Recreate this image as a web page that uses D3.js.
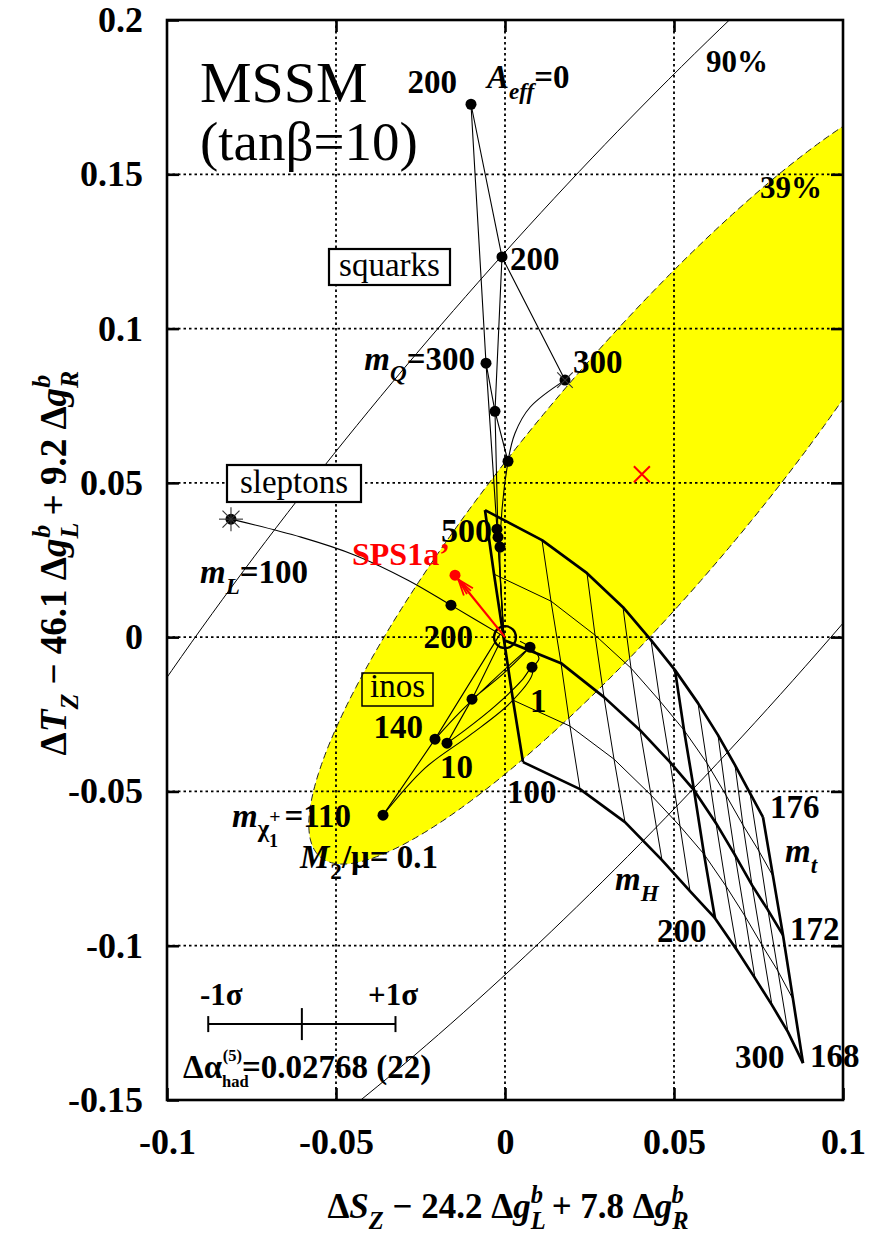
<!DOCTYPE html>
<html><head><meta charset="utf-8">
<script src="https://cdn.jsdelivr.net/npm/d3@7"></script>
<style>body{margin:0;background:#fff} svg{display:block} text{font-family:"Liberation Serif","Times New Roman",serif}</style>
</head><body>
<svg id="c" width="870" height="1236"></svg>
<script>
// ---------------- data ----------------
const xTicks = [-0.1, -0.05, 0, 0.05, 0.1];
const xTickLabels = ["-0.1", "-0.05", "0", "0.05", "0.1"];
const yTicks = [-0.15, -0.1, -0.05, 0, 0.05, 0.1, 0.15, 0.2];
const yTickLabels = ["-0.15", "-0.1", "-0.05", "0", "0.05", "0.1", "0.15", "0.2"];

// fit ellipses: centre and conjugate semi-axis vectors (data units)
const ellCenter = [0.0405, 0.0528];
const ell39A = [0.0951, 0.1241], ell39B = [0.02583, -0.02375];
const ell90A = [0.2096, 0.2643], ell90B = [0.05574, -0.05305];

// SM grid: m_H = 100..300 for each m_t
const mHvals = [100, 120, 140, 160, 180, 200, 220, 240, 260, 280, 300];
const mtVals = [168, 170, 172, 174, 176];
const sm176 = [[-0.00592,0.04116],[0.01095,0.03144],[0.02426,0.02074],[0.03491,0.00972],[0.04320,-0.00097],[0.05030,-0.01069],[0.05710,-0.02139],[0.06302,-0.03176],[0.06805,-0.04148],[0.07249,-0.05056],[0.07633,-0.05833]];
const sm174 = [[-0.00325,0.02042],[0.01361,0.01167],[0.02663,0.00065],[0.03728,-0.01005],[0.04586,-0.02074],[0.05296,-0.03014],[0.05976,-0.04083],[0.06538,-0.05120],[0.07041,-0.06093],[0.07515,-0.06935],[0.07929,-0.07745]];
const sm172 = [[-0.00030,-0.00097],[0.01657,-0.00843],[0.02929,-0.01944],[0.03994,-0.03014],[0.04882,-0.04051],[0.05592,-0.04958],[0.06243,-0.06028],[0.06805,-0.07065],[0.07308,-0.08037],[0.07781,-0.08847],[0.08225,-0.09658]];
const sm170 = [[0.00237,-0.02042],[0.01923,-0.02884],[0.03225,-0.03954],[0.04320,-0.05120],[0.05178,-0.06125],[0.05888,-0.07032],[0.06538,-0.08069],[0.07101,-0.09042],[0.07604,-0.09982],[0.08077,-0.10824],[0.08521,-0.11732]];
const sm168 = [[0.00533,-0.04051],[0.02219,-0.04926],[0.03550,-0.05995],[0.04645,-0.07227],[0.05473,-0.08232],[0.06213,-0.09107],[0.06864,-0.10144],[0.07396,-0.11051],[0.07899,-0.11926],[0.08373,-0.12801],[0.08817,-0.13806]];

// squarks: curves of fixed A_eff (0, 200, 300) vs m_Q, and fixed m_Q vs A_eff
const sqA0   = [[-0.01006,0.1727],[-0.00562,0.0888],[-0.00237,0.0350],[-0.0003,0.0]];
const sqA200 = [[-0.00089,0.1232],[-0.00296,0.0732],[-0.00207,0.0324],[-0.0003,0.0]];
const sqA300 = [[0.01775,0.0833],[0.0074,0.0745],[0.00296,0.0661],[0.00089,0.0570],[-0.00148,0.0292],[-0.0003,0.0]];
const sqM200 = [[-0.01006,0.1727],[-0.00089,0.1232],[0.01775,0.0833]];
const sqM300 = [[-0.00562,0.0888],[-0.00296,0.0732],[0.00089,0.0570]];
const sqDots = [[-0.01006,0.1727],[-0.00089,0.1232],[-0.00562,0.0888],[0.01775,0.0833],[-0.00296,0.0732],[0.00089,0.0570],[-0.00237,0.0350],[-0.00207,0.0324],[-0.00148,0.0292]];

// sleptons
const slCurve = [[-0.08107,0.03824],[-0.06036,0.03241],[-0.04438,0.02657],[-0.02870,0.01847],[-0.01598,0.01037],[0,0]];
const slDots = [[-0.01598,0.01037]];
const slStar = [-0.08107,0.03824];

// inos (charginos / neutralinos)
const inoMu01 = [[-0.03609,-0.05769],[-0.02071,-0.03306],[-0.00148,0.00097]];
const inoMu10 = [[-0.01716,-0.03435],[-0.00976,-0.02009],[-0.00148,-0.00162]];
const inoMu1  = [[0.00799,-0.00972],[0.01006,-0.00681],[0.00740,-0.00324],[0.00444,-0.00130]];
const inoM110 = [[-0.03609,-0.05769],[-0.02367,-0.04245],[-0.01036,-0.03176],[0.00148,-0.02139],[0.00799,-0.01232],[0.00799,-0.00972],[0.00503,-0.01394],[-0.00296,-0.02236],[-0.01183,-0.03014],[-0.01716,-0.03435]];
const inoM140 = [[-0.02071,-0.03306],[-0.01331,-0.02431],[-0.00444,-0.01491],[0.00296,-0.00745],[0.00740,-0.00324],[0.0,-0.01134],[-0.00976,-0.02009]];
const inoDots = [[-0.03609,-0.05769],[-0.02071,-0.03306],[-0.01716,-0.03435],[-0.00976,-0.02009],[0.00740,-0.00324],[0.00799,-0.00972]];

// SPS1a' point and arrow
const spsPoint = [-0.01479, 0.02009];
const spsArrow = [[0,0],[-0.0138,0.0187]];
const origin = [0, 0];
const bestFit = [0.0405, 0.0528];

// 1 sigma bar for Delta alpha_had
const sigmaCenter = -0.0601, sigmaHalf = 0.0277, sigmaY = -0.1254;

// ---------------- drawing ----------------
const M = {l:167, r:843, t:20, b:1100};
const x = d3.scaleLinear().domain([-0.1, 0.1]).range([M.l, M.r]);
const y = d3.scaleLinear().domain([-0.15, 0.2]).range([M.b, M.t]);
const svg = d3.select("#c");
const FONT = '"Liberation Serif","Times New Roman",serif';

svg.append("defs").append("clipPath").attr("id","clip")
  .append("rect").attr("x",M.l).attr("y",M.t).attr("width",M.r-M.l).attr("height",M.b-M.t);
const plot = svg.append("g").attr("clip-path","url(#clip)");

const line = d3.line().x(d=>x(d[0])).y(d=>y(d[1]));
const smooth = d3.line().x(d=>x(d[0])).y(d=>y(d[1])).curve(d3.curveCatmullRom.alpha(0.5));

function ellipsePts(c, A, B){
  return d3.range(0, 361, 1).map(a=>{const t=a*Math.PI/180;
    return [c[0]+Math.cos(t)*A[0]+Math.sin(t)*B[0], c[1]+Math.cos(t)*A[1]+Math.sin(t)*B[1]];});
}
// 39% ellipse
const e39 = ellipsePts(ellCenter, ell39A, ell39B);
plot.append("path").attr("d", line(e39)).attr("fill","#ffff00").attr("stroke","none");
plot.append("path").attr("d", line(e39)).attr("fill","none").attr("stroke","#222").attr("stroke-width",1).attr("stroke-dasharray","7,4");

// grid
const gridG = plot.append("g").attr("stroke","#000").attr("stroke-width",1.8).attr("stroke-dasharray","2.5,3");
[-0.05,0,0.05].forEach(v=>gridG.append("line").attr("x1",x(v)).attr("x2",x(v)).attr("y1",M.t).attr("y2",M.b));
[-0.1,-0.05,0,0.05,0.1,0.15].forEach(v=>gridG.append("line").attr("y1",y(v)).attr("y2",y(v)).attr("x1",M.l).attr("x2",M.r));

// 90% ellipse
plot.append("path").attr("d", line(ellipsePts(ellCenter, ell90A, ell90B))).attr("fill","none").attr("stroke","#000").attr("stroke-width",1);

// SM grid thin
const smByMt = [sm168, sm170, sm172, sm174, sm176];
const thin = plot.append("g").attr("fill","none").attr("stroke","#000").attr("stroke-width",1);
[sm170, sm174].forEach(a=>thin.append("path").attr("d", line(a)));
mHvals.forEach((m,i)=>{ if(m!==100 && m!==200 && m!==300) thin.append("path").attr("d", line(smByMt.map(a=>a[i]))); });
// SM grid thick
const thick = plot.append("g").attr("fill","none").attr("stroke","#000").attr("stroke-width",2.7).attr("stroke-linejoin","round");
[sm168, sm172, sm176].forEach(a=>thick.append("path").attr("d", line(a)));
mHvals.forEach((m,i)=>{ if(m===100 || m===200 || m===300) thick.append("path").attr("d", line(smByMt.map(a=>a[i]))); });

// squarks, sleptons, inos
const lg = plot.append("g").attr("fill","none").attr("stroke","#000").attr("stroke-width",1.1);
[sqA0, sqA200, sqM200, sqM300].forEach(a=>lg.append("path").attr("d", line(a)));
lg.append("path").attr("d", smooth(sqA300));
lg.append("path").attr("d", smooth(slCurve));
[inoMu01, inoMu10].forEach(a=>lg.append("path").attr("d", line(a)));
[inoMu1, inoM110, inoM140].forEach(a=>lg.append("path").attr("d", smooth(a)));

// dots
const dots = plot.append("g").attr("fill","#000");
[...sqDots, ...slDots, ...inoDots].forEach(d=>dots.append("circle").attr("cx",x(d[0])).attr("cy",y(d[1])).attr("r",5.5));
dots.append("circle").attr("cx",x(slStar[0])).attr("cy",y(slStar[1])).attr("r",5.5);
function star(p, angles, len, col){
  angles.forEach(a=>{const r=a*Math.PI/180;
    plot.append("line").attr("x1",x(p[0])-len*Math.cos(r)).attr("y1",y(p[1])-len*Math.sin(r))
      .attr("x2",x(p[0])+len*Math.cos(r)).attr("y2",y(p[1])+len*Math.sin(r)).attr("stroke",col).attr("stroke-width",1.1);});
}
star(slStar, [0,45,90,135], 12, "#333");
star(sqDots[3], [45,135], 11, "#333");

// origin circle
plot.append("circle").attr("cx",x(origin[0])).attr("cy",y(origin[1])).attr("r",11).attr("fill","none").attr("stroke","#000").attr("stroke-width",2.2);

// SPS1a' arrow and point
const ax1=x(spsArrow[0][0]), ay1=y(spsArrow[0][1]), ax2=x(spsArrow[1][0]), ay2=y(spsArrow[1][1]);
plot.append("line").attr("x1",ax1).attr("y1",ay1).attr("x2",ax2).attr("y2",ay2).attr("stroke","#ff0000").attr("stroke-width",2.2);
const ang = Math.atan2(ay1-ay2, ax1-ax2);
[-0.35,-0.15,0.15,0.35].forEach(da=>plot.append("line").attr("x1",ax2).attr("y1",ay2)
  .attr("x2",ax2+17*Math.cos(ang+da)).attr("y2",ay2+17*Math.sin(ang+da)).attr("stroke","#ff0000").attr("stroke-width",1.8));
plot.append("circle").attr("cx",x(spsPoint[0])).attr("cy",y(spsPoint[1])).attr("r",5.5).attr("fill","#ff0000");

// best fit cross
const bx=x(bestFit[0]), by=y(bestFit[1]);
plot.append("path").attr("d",`M${bx-8},${by-8}L${bx+8},${by+8}M${bx-8},${by+8}L${bx+8},${by-8}`).attr("stroke","#ff0000").attr("stroke-width",2);

// sigma bar
const sg = svg.append("g").attr("stroke","#000").attr("stroke-width",2);
const sx1=x(sigmaCenter-sigmaHalf), sx2=x(sigmaCenter+sigmaHalf), sxc=x(sigmaCenter), sy=y(sigmaY);
sg.append("line").attr("x1",sx1).attr("x2",sx2).attr("y1",sy).attr("y2",sy);
sg.append("line").attr("x1",sx1).attr("x2",sx1).attr("y1",sy-8).attr("y2",sy+8);
sg.append("line").attr("x1",sx2).attr("x2",sx2).attr("y1",sy-8).attr("y2",sy+8);
sg.append("line").attr("x1",sxc).attr("x2",sxc).attr("y1",sy-16).attr("y2",sy+16);

// frame & axes
svg.append("rect").attr("x",M.l).attr("y",M.t).attr("width",M.r-M.l).attr("height",M.b-M.t).attr("fill","none").attr("stroke","#000").attr("stroke-width",2.6);
function styleAxis(g){ g.select(".domain").remove(); g.selectAll(".tick line").attr("stroke","#000").attr("stroke-width",2.6);
  g.selectAll("text").attr("font-family",FONT).attr("font-size",36).attr("font-weight","bold").attr("fill","#000"); }
svg.append("g").attr("transform",`translate(0,${M.b})`)
  .call(d3.axisBottom(x).tickValues(xTicks).tickSize(-12).tickPadding(28).tickFormat((d,i)=>xTickLabels[i])).call(styleAxis);
svg.append("g").attr("transform",`translate(0,${M.t})`)
  .call(d3.axisTop(x).tickValues(xTicks.slice(1,-1)).tickSize(-12).tickFormat("")).call(styleAxis);
svg.append("g").attr("transform",`translate(${M.l},0)`)
  .call(d3.axisLeft(y).tickValues(yTicks).tickSize(-12).tickPadding(24).tickFormat((d,i)=>yTickLabels[i])).call(styleAxis);
svg.append("g").attr("transform",`translate(${M.r},0)`)
  .call(d3.axisRight(y).tickValues(yTicks.slice(1,-1)).tickSize(-12).tickFormat("")).call(styleAxis);

// ---------- rich text helper ----------
function rich(g, px, py, parts, o){
  o = o||{};
  const fs = o.size||33;
  const t = g.append("text").attr("x",px).attr("y",py).attr("font-size",fs)
    .attr("font-weight", o.bold===false?"normal":"bold").attr("text-anchor",o.anchor||"start").attr("fill",o.color||"#000");
  if(o.rotate) t.attr("transform",`rotate(${o.rotate},${px},${py})`);
  let cur = 0;
  parts.forEach(p=>{
    if(typeof p==="string") p={t:p};
    const off = p.pos==="sub"? fs*0.32 : p.pos==="sup"? -fs*0.42 : p.pos==="subsub"? fs*0.55 : (p.off||0);
    const ts = t.append("tspan").text(p.t);
    if(off-cur!==0) ts.attr("dy", off-cur);
    cur = off;
    if(p.it) ts.attr("font-style","italic");
    if(p.pos || p.scale) ts.attr("font-size", fs*(p.scale||0.7));
    if(p.dx) ts.attr("dx", p.dx);
  });
  return t;
}
const L = svg.append("g");

// title
rich(L, 200, 102, ["MSSM"], {size:58, bold:false});
rich(L, 200, 160, ["(tanβ=10)"], {size:55, bold:false});

// axis titles
rich(L, 508, 1218, ["Δ",{t:"S",it:true},{t:"Z",it:true,pos:"sub"},{t:" − 24.2 Δ"},{t:"g",it:true},{t:"L",it:true,pos:"sub"},{t:"b",it:true,pos:"sup",dx:-15},
  {t:" + 7.8 Δ"},{t:"g",it:true},{t:"R",it:true,pos:"sub"},{t:"b",it:true,pos:"sup",dx:-17}], {size:35, anchor:"middle"});
rich(L, 66, 563, ["Δ",{t:"T",it:true},{t:"Z",it:true,pos:"sub"},{t:" − 46.1 Δ"},{t:"g",it:true},{t:"L",it:true,pos:"sub"},{t:"b",it:true,pos:"sup",dx:-15},
  {t:" + 9.2 Δ"},{t:"g",it:true},{t:"R",it:true,pos:"sub"},{t:"b",it:true,pos:"sup",dx:-17}], {size:37, anchor:"middle", rotate:-90});

// confidence labels
rich(L, 706, 72, ["90%"], {size:31});
rich(L, 760, 198, ["39%"], {size:31});

// squark labels
rich(L, 457, 93, ["200"], {anchor:"end"});
rich(L, 487, 88, [{t:"A",it:true},{t:"eff",it:true,pos:"sub"},{t:"=0"}]);
rich(L, 510, 270, ["200"]);
rich(L, 475, 370, [{t:"m",it:true},{t:"Q",it:true,pos:"sub"},{t:"=300"}], {anchor:"end"});
rich(L, 573, 373, ["300"]);
rich(L, 492, 542, ["500"], {anchor:"end", size:34});

// boxes
function box(x1,y1,x2,y2,txt,fill,sw){
  L.append("rect").attr("x",x1).attr("y",y1).attr("width",x2-x1).attr("height",y2-y1).attr("fill",fill).attr("stroke","#000").attr("stroke-width",sw);
  rich(L,(x1+x2)/2,y2-9,[txt],{size:33,bold:false,anchor:"middle"});
}
box(329,249,450,285,"squarks","#fff",2.2);
box(227,465,361,502,"sleptons","#fff",2.2);
box(362,673,433,706,"inos","none",1.5);

// slepton labels
rich(L, 200, 583, [{t:"m",it:true},{t:"L",it:true,pos:"sub"},{t:"=100"}]);
rich(L, 473, 648, ["200"], {anchor:"end"});
// SPS1a'
rich(L, 352, 565, ["SPS1a’"], {size:32, color:"#ff0000"});

// ino labels
rich(L, 423, 738, ["140"], {anchor:"end"});
rich(L, 440, 778, ["10"]);
rich(L, 530, 712, ["1"]);
rich(L, 232, 827, [{t:"m",it:true},{t:"χ",off:10,scale:0.75},{t:"1",off:20,scale:0.55},{t:"+",off:-4,scale:0.6,dx:-9},{t:"=110",off:0,dx:4}]);
rich(L, 300, 868, [{t:"M",it:true},{t:"2",pos:"sub",dx:1},{t:"/μ= 0.1",off:0}]);

// SM labels
rich(L, 507, 803, ["100"]);
rich(L, 615, 890, [{t:"m",it:true},{t:"H",it:true,pos:"sub"}]);
rich(L, 657, 942, ["200"]);
rich(L, 735, 1068, ["300"]);
rich(L, 810, 1067, ["168"]);
rich(L, 770, 818, ["176"]);
rich(L, 785, 862, [{t:"m",it:true},{t:"t",it:true,pos:"sub"}]);
rich(L, 790, 940, ["172"]);

// sigma labels
rich(L, 200, 1005, ["-1σ"], {size:31});
rich(L, 368, 1005, ["+1σ"], {size:31});
rich(L, 183, 1078, ["Δα",{t:"had",off:9,scale:0.5},{t:"(5)",off:-17,scale:0.5,dx:-26},{t:"=0.02768 (22)",off:0}], {size:33});
</script></body></html>
